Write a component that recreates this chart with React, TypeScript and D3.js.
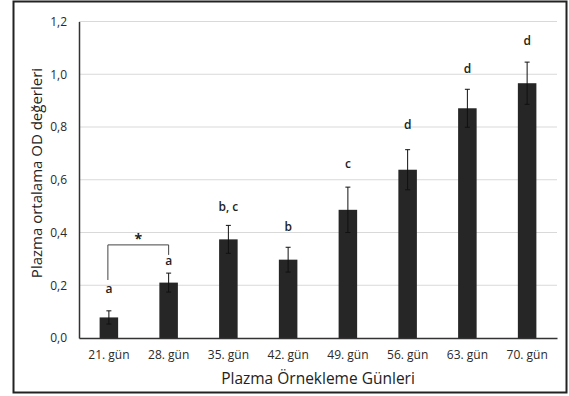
import React, { useEffect, useRef } from 'react';
import * as d3 from 'd3';

const days = ['21. gün', '28. gün', '35. gün', '42. gün', '49. gün', '56. gün', '63. gün', '70. gün'];
const means = [0.078, 0.21, 0.374, 0.297, 0.486, 0.638, 0.871, 0.966];
const errors = [0.025, 0.036, 0.053, 0.047, 0.086, 0.076, 0.072, 0.08];
const letters = ['a', 'a', 'b, c', 'b', 'c', 'd', 'd', 'd'];
// height (in OD units) at which each significance letter sits
const letterAt = [0.171, 0.277, 0.481, 0.406, 0.645, 0.792, 1.005, 1.111];
const yTicks = [0, 0.2, 0.4, 0.6, 0.8, 1.0, 1.2];

const App = () => {
  const svgRef = useRef<SVGSVGElement>(null);

  useEffect(() => {
    const width = 569;
    const height = 396;
    const margin = { top: 21.5, right: 12, bottom: 58, left: 79 };
    const font = 'Open Sans, sans-serif';

    const svg = d3.select(svgRef.current).attr('width', width).attr('height', height);
    svg.selectAll('*').remove();

    svg.append('rect')
      .attr('x', 13.5).attr('y', 1.5)
      .attr('width', 553).attr('height', 391)
      .attr('fill', 'white').attr('stroke', '#222').attr('stroke-width', 2);

    const x = d3.scaleBand()
      .domain(days)
      .range([margin.left, width - margin.right])
      .paddingInner(0.69)
      .paddingOuter(0.345);

    const y = d3.scaleLinear()
      .domain([0, 1.2])
      .range([height - margin.bottom, margin.top]);

    // gridlines
    svg.append('g')
      .selectAll('line')
      .data(yTicks.slice(1))
      .join('line')
      .attr('x1', margin.left).attr('x2', width - margin.right)
      .attr('y1', d => y(d)).attr('y2', d => y(d))
      .attr('stroke', '#d9d9d9').attr('stroke-width', 1);

    // y axis
    const yAxis = svg.append('g')
      .attr('transform', `translate(${margin.left},0)`)
      .call(d3.axisLeft(y).tickValues(yTicks).tickSize(0).tickPadding(12)
        .tickFormat(d => d3.format('.1f')(d as number).replace('.', ',')));
    yAxis.select('.domain').attr('stroke', '#333').attr('stroke-width', 1.5);
    yAxis.selectAll('text').attr('font-family', font).attr('font-size', 12).attr('fill', '#2a2a2a');

    // bars
    svg.append('g')
      .selectAll('rect')
      .data(means)
      .join('rect')
      .attr('x', (d, i) => x(days[i])!)
      .attr('y', d => y(d))
      .attr('width', x.bandwidth())
      .attr('height', d => y(0) - y(d))
      .attr('fill', '#262626');

    // error bars
    const eg = svg.append('g').attr('stroke', '#111').attr('stroke-width', 1);
    means.forEach((m, i) => {
      const cx = x(days[i])! + x.bandwidth() / 2;
      eg.append('line').attr('x1', cx).attr('x2', cx)
        .attr('y1', y(m - errors[i])).attr('y2', y(m + errors[i]));
      eg.append('line').attr('x1', cx - 2.5).attr('x2', cx + 2.5)
        .attr('y1', y(m + errors[i])).attr('y2', y(m + errors[i]));
      eg.append('line').attr('x1', cx - 2.5).attr('x2', cx + 2.5)
        .attr('y1', y(m - errors[i])).attr('y2', y(m - errors[i]));
    });

    // x axis
    const xAxis = svg.append('g')
      .attr('transform', `translate(0,${y(0)})`)
      .call(d3.axisBottom(x).tickSize(0).tickPadding(12));
    xAxis.select('.domain').attr('stroke', '#333').attr('stroke-width', 1.5);
    xAxis.selectAll('text').attr('font-family', font).attr('font-size', 12).attr('fill', '#2a2a2a');

    // significance letters
    svg.append('g')
      .selectAll('text')
      .data(letters)
      .join('text')
      .attr('x', (d, i) => x(days[i])! + x.bandwidth() / 2)
      .attr('y', (d, i) => y(letterAt[i]))
      .attr('text-anchor', 'middle')
      .attr('font-family', font)
      .attr('font-size', 12)
      .attr('font-weight', 600)
      .attr('fill', '#222')
      .text(d => d);

    // bracket between 21 and 28
    const bx1 = x(days[0])! + x.bandwidth() / 2 - 1;
    const bx2 = x(days[1])! + x.bandwidth() / 2;
    const by = y(0.353);
    svg.append('path')
      .attr('d', `M${bx1},${y(0.22)}V${by}H${bx2}V${y(0.315)}`)
      .attr('fill', 'none').attr('stroke', '#444').attr('stroke-width', 1);
    svg.append('text')
      .attr('x', (bx1 + bx2) / 2).attr('y', by - 1)
      .attr('text-anchor', 'middle')
      .attr('font-family', font).attr('font-size', 14).attr('font-weight', 700)
      .attr('fill', '#222')
      .text('*');

    // axis titles
    svg.append('text')
      .attr('x', (margin.left + width - margin.right) / 2)
      .attr('y', 384)
      .attr('text-anchor', 'middle')
      .attr('font-family', font).attr('font-size', 15.5).attr('fill', '#222')
      .text('Plazma Örnekleme Günleri');

    svg.append('text')
      .attr('transform', `translate(42,173) rotate(-90)`)
      .attr('text-anchor', 'middle')
      .attr('font-family', font).attr('font-size', 15).attr('fill', '#222')
      .text('Plazma ortalama OD değerleri');
  }, []);

  return <svg ref={svgRef} style={{ position: 'absolute', left: 0, top: 0 }} />;
};

export default App;
